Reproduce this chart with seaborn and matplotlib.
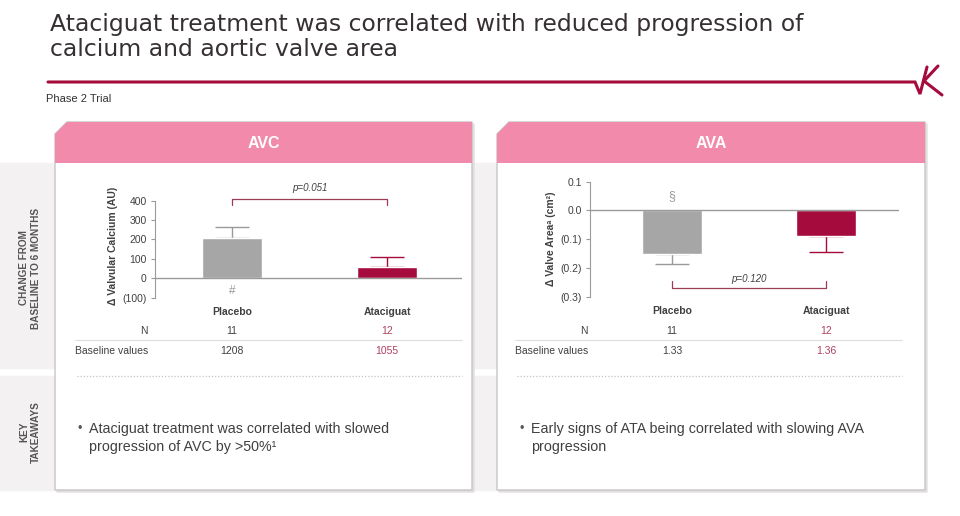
import numpy as np
import pandas as pd
import seaborn as sns
import matplotlib
matplotlib.use("Agg")
import matplotlib.pyplot as plt
import matplotlib.transforms as mtransforms
from matplotlib.patches import Rectangle, Polygon
from matplotlib.ticker import FuncFormatter

# data
categories = ["Placebo", "Ataciguat"]
avc_change = [205, 57]
avc_sem = [60, 52]
ava_change = [-0.15, -0.09]
ava_sem = [0.035, 0.055]
n_patients = [11, 12]
avc_baseline = ["1208", "1055"]
ava_baseline = ["1.33", "1.36"]
avc_ticks = [-100, 0, 100, 200, 300, 400]
ava_ticks = [-0.3, -0.2, -0.1, 0.0, 0.1]
avc_p = "p=0.051"
ava_p = "p=0.120"

GRAY_BAR = "#a6a6a6"
CRIMSON = "#a50b3d"
SOFT_RED = "#b0405f"
PINK = "#f28aab"
TEXT = "#404040"
AXIS = "#9a9a9a"
BORDER = "#c9c5c6"

sns.set_style("white")
plt.rcParams["font.family"] = ["Liberation Sans", "DejaVu Sans"]

W, H = 960, 516
fig = plt.figure(figsize=(9.6, 5.16), dpi=100)

# background canvas in pixel coordinates
bg = fig.add_axes([0, 0, 1, 1])
bg.set_xlim(0, W)
bg.set_ylim(H, 0)
bg.axis("off")
bg.set_zorder(0)

def rect(x0, x1, ybot, ytop):
    return [x0 / W, 1 - ybot / H, (x1 - x0) / W, (ybot - ytop) / H]

# title
bg.text(50, 24, "Ataciguat treatment was correlated with reduced progression of",
        fontsize=16.9, family="DejaVu Sans", color="#363032", va="center")
bg.text(50, 50, "calcium and aortic valve area", fontsize=16.9, family="DejaVu Sans",
        color="#363032", va="center")
bg.plot([48, 915, 920, 927], [82, 82, 94, 67], color=CRIMSON, lw=2.2, solid_joinstyle="miter")
bg.plot([938, 924, 942], [66, 81, 95], color=CRIMSON, lw=2.2)
bg.text(46, 99, "Phase 2 Trial", fontsize=8, color="#333333", va="center")

# side band
bg.add_patch(Rectangle((0, 163), 925, 205, color="#f3f1f1", zorder=0.5))
bg.add_patch(Rectangle((0, 376), 925, 114, color="#f3f1f1", zorder=0.5))
bg.text(30, 268, "CHANGE FROM\nBASELINE TO 6 MONTHS", rotation=90, fontsize=7.2,
        fontweight="bold", color="#555555", ha="center", va="center", multialignment="center")
bg.text(30, 432, "KEY\nTAKEAWAYS", rotation=90, fontsize=7.2,
        fontweight="bold", color="#555555", ha="center", va="center", multialignment="center")


def panel(x0, x1, title):
    outline = [(x0, 134), (x0 + 12, 122), (x1, 122), (x1, 490), (x0, 490)]
    shadow = [(x + 2, y + 2) for x, y in outline]
    bg.add_patch(Polygon(shadow, closed=True, color="#e2dfe0", zorder=1))
    bg.add_patch(Polygon(outline, closed=True, facecolor="white",
                         edgecolor=BORDER, lw=1, zorder=2))
    bg.add_patch(Polygon([(x0, 134), (x0 + 12, 122), (x1, 122), (x1, 163), (x0, 163)],
                         closed=True, facecolor=PINK, edgecolor="none", zorder=3))
    bg.text((x0 + x1) / 2, 143, title, color="white", fontsize=11.5,
            fontweight="bold", ha="center", va="center", zorder=4)


panel(55, 472, "AVC")
panel(497, 925, "AVA")


def chart(box, xlim, values, errs, ticks, dec, ylim, ylabel):
    ax = fig.add_axes(box)
    ax.set_facecolor("none")
    ax.set_zorder(5)
    df = pd.DataFrame({"group": categories, "change": values})
    sns.barplot(data=df, x="group", y="change", hue="group",
                palette=[GRAY_BAR, CRIMSON], width=0.39, saturation=1,
                legend=False, ax=ax, zorder=3)
    for i, (v, e) in enumerate(zip(values, errs)):
        yerr = [[0], [e]] if v > 0 else [[e], [0]]
        ax.errorbar([i], [v], yerr=yerr, fmt="none", ecolor=[AXIS, CRIMSON][i],
                    elinewidth=1, capsize=12, capthick=1, zorder=2)
    ax.axhline(0, color=AXIS, lw=1, zorder=4)
    ax.set_xlim(*xlim)
    ax.set_ylim(*ylim)
    sns.despine(ax=ax, bottom=True)
    ax.spines["left"].set_bounds(ticks[0], ticks[-1])
    ax.spines["left"].set_color(AXIS)
    ax.set_yticks(ticks)
    ax.yaxis.set_major_formatter(FuncFormatter(
        lambda v, p: f"({abs(v):.{dec}f})" if v < -1e-9 else f"{abs(v):.{dec}f}"))
    ax.tick_params(axis="y", left=True, length=3, width=0.8, color=AXIS,
                   labelsize=7.5, labelcolor=TEXT, pad=3)
    ax.tick_params(axis="x", length=0, pad=7, labelsize=7.5, labelcolor=TEXT)
    for lab in ax.get_xticklabels():
        lab.set_fontweight("bold")
    ax.set_xlabel("")
    ax.set_ylabel(ylabel, fontsize=7.5, fontweight="bold", color=TEXT, labelpad=3)
    return ax


ax1 = chart(rect(155, 462, 297.5, 194.7), (-0.497, 1.484), avc_change, avc_sem,
            avc_ticks, 0, (-100, 430), "Δ Valvular Calcium (AU)")
ax2 = chart(rect(590, 899, 296.7, 181.7), (-0.532, 1.474), ava_change, ava_sem,
            ava_ticks, 1, (-0.3, 0.1), "Δ Valve Areaᵃ (cm²)")

# significance brackets and markers
ax1.plot([0, 0, 1, 1], [375, 410, 410, 375], color="#9b3c55", lw=0.9, clip_on=False)
ax1.text(0.5, 440, avc_p, style="italic", fontsize=7, color=TEXT, ha="center", va="bottom")
ax1.text(0, -67, "#", fontsize=8.5, color=AXIS, ha="center", va="center")

ax2.plot([0, 0, 1, 1], [-0.245, -0.268, -0.268, -0.245], color="#9b3c55", lw=0.9, clip_on=False)
ax2.text(0.5, -0.256, ava_p, style="italic", fontsize=7, color=TEXT, ha="center", va="bottom")
ax2.text(0, 0.05, "§", fontsize=9, color=AXIS, ha="center", va="center")

# N / baseline rows
for ax, x_left, x_right, nlabel_x, baseline in [(ax1, 75, 462, 148, avc_baseline),
                                               (ax2, 515, 902, 588, ava_baseline)]:
    tr = mtransforms.blended_transform_factory(ax.transData, bg.transData)
    bg.text(nlabel_x, 331, "N", fontsize=7.5, color=TEXT, ha="right", va="center", zorder=6)
    bg.plot([x_left, x_right], [340, 340], color="#dddddd", lw=0.8, zorder=6)
    bg.text(x_left, 351, "Baseline values", fontsize=7.5, color=TEXT, ha="left", va="center", zorder=6)
    for i in range(len(categories)):
        col = [TEXT, SOFT_RED][i]
        bg.text(i, 331, str(n_patients[i]), transform=tr, fontsize=7.5, color=col,
                ha="center", va="center", zorder=6)
        bg.text(i, 351, baseline[i], transform=tr, fontsize=7.5, color=col,
                ha="center", va="center", zorder=6)
    bg.plot([x_left + 2, x_right], [376, 376], color="#c4c4c4", lw=0.9, ls=(0, (1, 1.5)), zorder=6)

# key takeaways
takeaways = [
    (77, ["Ataciguat treatment was correlated with slowed", "progression of AVC by >50%¹"]),
    (519, ["Early signs of ATA being correlated with slowing AVA", "progression"]),
]
for x, lines in takeaways:
    bg.text(x, 429, "•", fontsize=9, color="#555555", ha="left", va="center", zorder=6)
    for k, line in enumerate(lines):
        bg.text(x + 12, 429 + 18 * k, line, fontsize=10.3, color=TEXT,
                ha="left", va="center", zorder=6)

fig.savefig("out.png", dpi=100, facecolor="white")
